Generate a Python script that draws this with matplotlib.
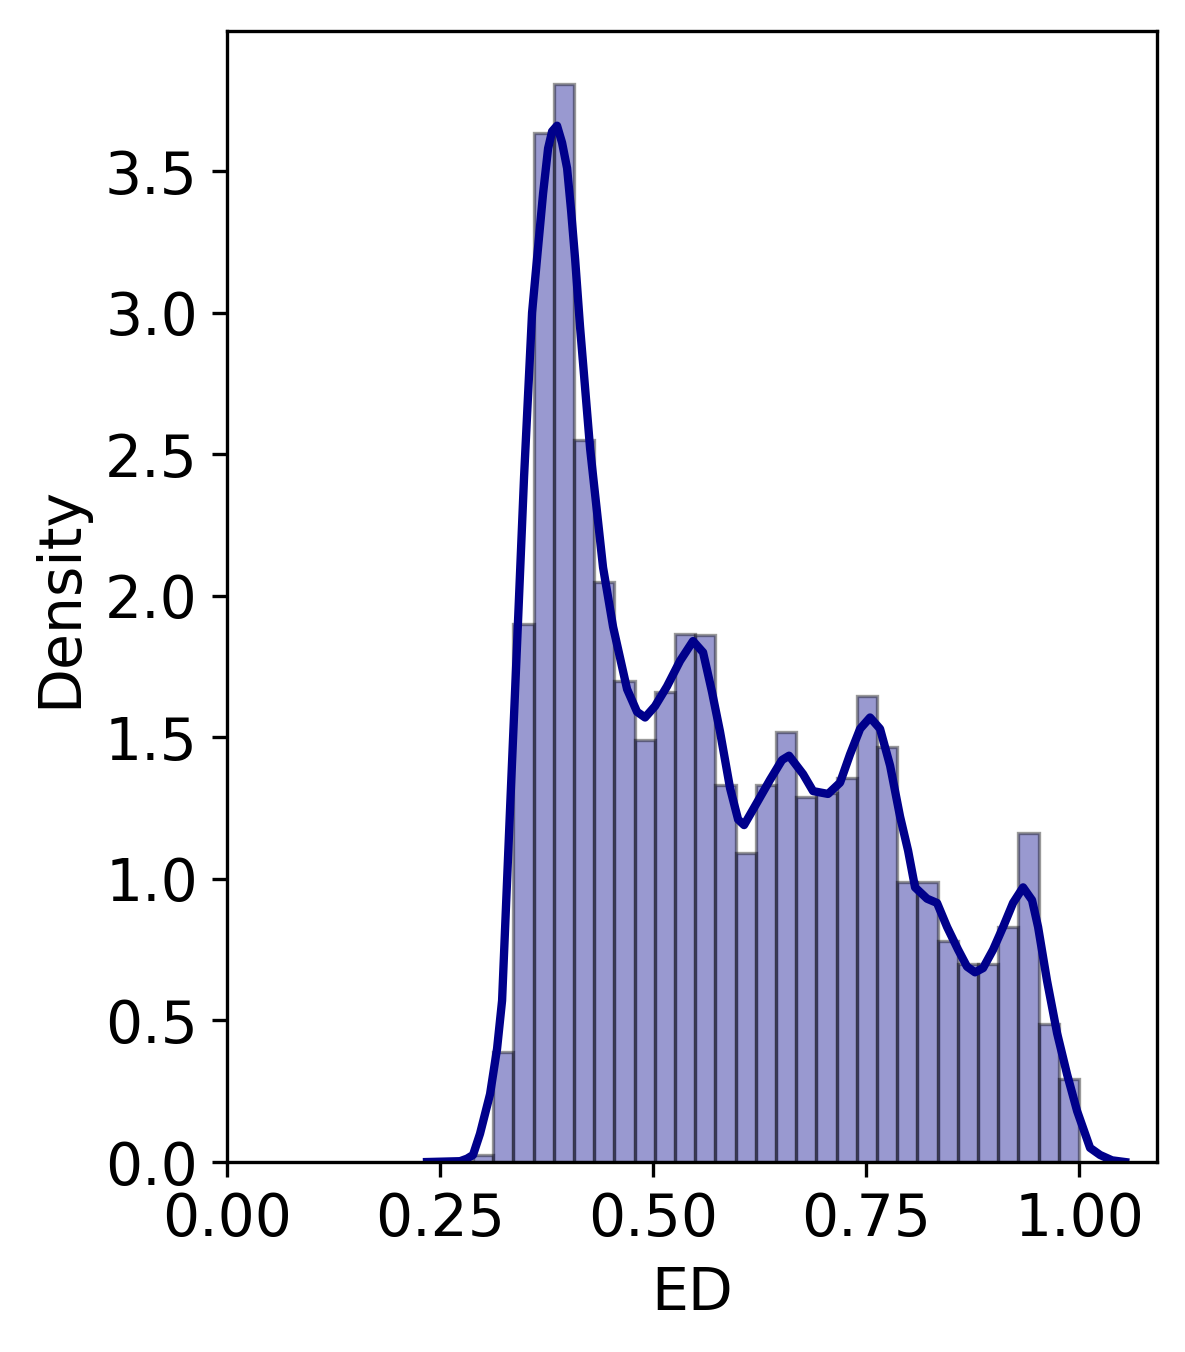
import numpy as np
import matplotlib
matplotlib.use("Agg")
import matplotlib.pyplot as plt

# histogram: 30 bins between min and max of ED
bin_lo = 0.2887
bin_hi = 1.0
heights = [0.025, 0.39, 1.90, 3.635, 3.808, 2.55, 2.05, 1.70, 1.49, 1.66,
           1.865, 1.86, 1.33, 1.09, 1.33, 1.52, 1.29, 1.305, 1.356, 1.646,
           1.466, 0.99, 0.99, 0.78, 0.70, 0.70, 0.83, 1.162, 0.487, 0.293]

# kde curve
kde_x = [0.2347, 0.2735, 0.2817, 0.2887, 0.2969, 0.3028, 0.3087, 0.3169, 0.3228,
         0.3322, 0.3404, 0.3486, 0.3580, 0.3638, 0.3709, 0.3768, 0.3815, 0.3873,
         0.3932, 0.3991, 0.4038, 0.4085, 0.4143, 0.4261, 0.4413, 0.4531, 0.4695,
         0.4812, 0.4906, 0.5023, 0.5164, 0.5317, 0.5469, 0.5587, 0.5692, 0.5786,
         0.5904, 0.5998, 0.6068, 0.6221, 0.6373, 0.6514, 0.6596, 0.6761, 0.6878,
         0.7054, 0.7195, 0.7312, 0.7430, 0.7547, 0.7664, 0.7782, 0.7899, 0.7993,
         0.8075, 0.8216, 0.8333, 0.8451, 0.8580, 0.8685, 0.8779, 0.8873, 0.8991,
         0.9108, 0.9225, 0.9343, 0.9448, 0.9519, 0.9624, 0.9742, 0.9859, 0.9977,
         1.0129, 1.0246, 1.0387, 1.0540]
kde_y = [0.0, 0.003, 0.012, 0.025, 0.10, 0.17, 0.24, 0.40, 0.57,
         1.25, 1.83, 2.42, 3.00, 3.19, 3.42, 3.58, 3.64, 3.66,
         3.60, 3.51, 3.36, 3.19, 2.95, 2.52, 2.10, 1.89, 1.67,
         1.59, 1.57, 1.61, 1.68, 1.77, 1.84, 1.80, 1.66, 1.52,
         1.32, 1.21, 1.19, 1.27, 1.35, 1.42, 1.435, 1.37, 1.31,
         1.30, 1.34, 1.44, 1.53, 1.57, 1.53, 1.40, 1.22, 1.10,
         0.97, 0.93, 0.915, 0.83, 0.75, 0.69, 0.67, 0.685, 0.75,
         0.83, 0.915, 0.97, 0.925, 0.83, 0.64, 0.455, 0.31, 0.18,
         0.05, 0.025, 0.006, 0.0]

edges = np.linspace(bin_lo, bin_hi, len(heights) + 1)
width = edges[1] - edges[0]

fig = plt.figure(figsize=(3.95, 4.507), dpi=300)
ax = fig.add_axes([0.1916, 0.1405, 0.7848, 0.8366])

ax.bar(edges[:-1], heights, width=width, align='edge', color='darkblue',
       edgecolor='black', linewidth=0.8, alpha=0.4)
ax.plot(kde_x, kde_y, color='darkblue', linewidth=2, solid_joinstyle='round')

ax.set_xlim(0, 1.0915)
ax.set_ylim(0, 3.995)
ax.set_xticks([0, 0.25, 0.5, 0.75, 1.0])
ax.set_xticklabels(['0.00', '0.25', '0.50', '0.75', '1.00'])
ax.set_yticks(np.arange(0, 3.6, 0.5))
ax.tick_params(labelsize=14)
ax.set_xlabel('ED', fontsize=14)
ax.set_ylabel('Density', fontsize=14)

fig.savefig('out.png', dpi=300)
